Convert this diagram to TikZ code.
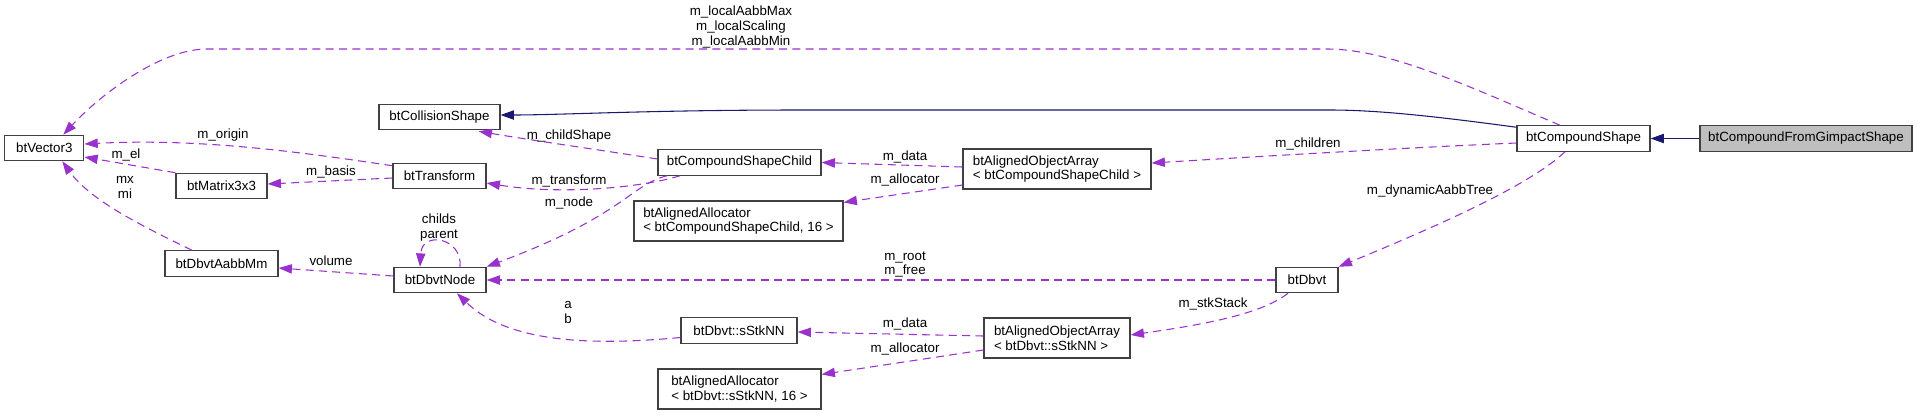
\documentclass[tikz,border=0pt]{standalone}
\usepackage{fontspec}
\setmainfont{Liberation Sans}
\usetikzlibrary{arrows.meta,calc}

\definecolor{orchid}{HTML}{9932CC}
\definecolor{navy}{HTML}{191970}
\definecolor{boxgray}{HTML}{BFBFBF}

\begin{document}
\begin{tikzpicture}[x=0.75pt,y=-0.75pt]
\tikzstyle{classbox}=[draw=black!75,line width=0.9pt,fill=white,font=\fontsize{10}{11}\selectfont,minimum height=19pt,inner sep=2pt]
\tikzstyle{twoline}=[classbox,align=left,minimum height=30pt]
\tikzstyle{edgelabel}=[font=\fontsize{10}{11}\selectfont,inner sep=0pt,align=center]
\tikzstyle{usage}=[draw=orchid,line width=0.8pt,dash pattern=on 6pt off 4pt,-{Triangle[length=10pt,width=7pt]}]
\tikzstyle{inheritance}=[draw=navy,line width=0.8pt,-{Triangle[length=10pt,width=7pt]}]

\useasboundingbox (0,0) rectangle (1917,415);

%% ========== CLASSES ==========
\node[classbox, fill=boxgray, minimum width=159pt] (gimpact) at (1806,138.5) {btCompoundFromGimpactShape};
\node[classbox, minimum width=99.75pt] (compound) at (1583.5,138.5) {btCompoundShape};
\node[classbox, minimum width=90.75pt] (collision) at (439.5,117) {btCollisionShape};
\node[classbox, minimum width=59.25pt] (vector) at (44.3,148) {btVector3};
\node[classbox, minimum width=69.75pt] (transform) at (439.5,176) {btTransform};
\node[classbox, minimum width=68.25pt] (matrix) at (221.5,186) {btMatrix3x3};
\node[classbox, minimum width=84.75pt] (aabbmm) at (221.5,263.5) {btDbvtAabbMm};
\node[classbox, minimum width=69pt] (dbvtnode) at (440,280) {btDbvtNode};
\node[classbox, minimum width=122.25pt] (child) at (739.5,162.5) {btCompoundShapeChild};
\node[twoline, minimum width=156.75pt] (childalloc) at (738.5,221) {btAlignedAllocator\\< btCompoundShapeChild, 16 >};
\node[twoline, minimum width=141pt] (childarray) at (1057,169) {btAlignedObjectArray\\< btCompoundShapeChild >};
\node[classbox, minimum width=87pt] (stknn) at (739,330.5) {btDbvt::sStkNN};
\node[twoline, minimum width=109.5pt] (stkarray) at (1057,338) {btAlignedObjectArray\\< btDbvt::sStkNN >};
\node[twoline, minimum width=122.25pt] (stkalloc) at (739.5,389) {btAlignedAllocator\\< btDbvt::sStkNN, 16 >};
\node[classbox, minimum width=46.5pt] (dbvt) at (1307,280) {btDbvt};

%% ========== INHERITANCE ==========
\draw[inheritance] (gimpact.west) -- (compound.east);
\draw[inheritance] ($(compound.north west)+(0,2)$) .. controls (1440,117) and (1380,110) .. (1330,110) -- (800,110) .. controls (650,110) and (560,115) .. ($(collision.east)+(0,-2)$);

%% ========== MEMBERS OF btCompoundShape ==========
\draw[usage] ($(compound.north)+(-23.5,0)$) .. controls (1470,87) and (1390,49) .. (1327,49) -- (207,49) .. controls (160,49) and (100,95) .. ($(vector.north)+(19,0)$);
\node[edgelabel] (lbl-aabb) at (741,27) {m\_localAabbMax\\m\_localScaling\\m\_localAabbMin};

\draw[usage] ($(compound.west)+(0,4.5)$) .. controls (1400,148) and (1250,157) .. ($(childarray.east)+(0,-6)$);
\node[edgelabel] (lbl-children) at (1308,144) {m\_children};

\draw[usage] ($(compound.south)+(-18.5,0)$) .. controls (1530,185) and (1440,225) .. (dbvt.north east);
\node[edgelabel] (lbl-tree) at (1430,191) {m\_dynamicAabbTree};

%% ========== COMPOUND CHILDREN ==========
\draw[usage] ($(childarray.west)+(0,-2)$) -- (child.east);
\node[edgelabel] (lbl-data1) at (905,157) {m\_data};
\draw[usage] ($(childarray.west)+(0,16)$) -- ($(childalloc.north east)+(0,2)$);
\node[edgelabel] (lbl-alloc1) at (905,180) {m\_allocator};

\draw[usage] ($(child.west)+(0,-3.5)$) .. controls (600,150) and (530,140) .. ($(collision.south east)+(-22,1)$);
\node[edgelabel] (lbl-shape) at (569,136) {m\_childShape};
\draw[usage] ($(child.south)+(-59.5,0)$) .. controls (640,188) and (560,195) .. ($(transform.east)+(0,7)$);
\node[edgelabel] (lbl-transform) at (569,181) {m\_transform};
\draw[usage] ($(child.south)+(-72.5,0)$) .. controls (630,185) and (625,215) .. (dbvtnode.north east);
\node[edgelabel] (lbl-node) at (569,203) {m\_node};

%% ========== TRANSFORM / VECTOR ==========
\draw[usage] ($(transform.north west)+(0,3)$) .. controls (300,152) and (200,138) .. ($(vector.east)+(0,-4)$);
\node[edgelabel] (lbl-origin) at (223,135) {m\_origin};
\draw[usage] ($(transform.west)+(0,2)$) -- ($(matrix.east)+(0,-2)$);
\node[edgelabel] (lbl-basis) at (331,172) {m\_basis};
\draw[usage] (matrix.north west) -- ($(vector.east)+(0,9)$);
\node[edgelabel] (lbl-el) at (126,155) {m\_el};
\draw[usage] ($(aabbmm.north)+(-29.5,0)$) .. controls (140,225) and (90,200) .. ($(vector.south)+(18,0)$);
\node[edgelabel] (lbl-mxmi) at (125,187.5) {mx\\mi};

%% ========== DBVT ==========
\draw[usage] ($(dbvtnode.west)+(0,-4)$) -- ($(aabbmm.east)+(0,4.5)$);
\node[edgelabel] (lbl-volume) at (331,261) {volume};
\draw[usage] ($(dbvtnode.north)+(20,0)$) .. controls (463,238) and (422,230) .. ($(dbvtnode.north)+(-20,0)$);
\node[edgelabel] (lbl-childs) at (439,227.5) {childs\\parent};
\draw[usage] (dbvt.west) -- (dbvtnode.east);
\node[edgelabel] (lbl-root) at (905,264.5) {m\_root\\m\_free};

\draw[usage] ($(dbvt.south)+(-19,0)$) .. controls (1260,315) and (1200,325) .. ($(stkarray.east)+(0,-3)$);
\node[edgelabel] (lbl-stack) at (1213,304) {m\_stkStack};
\draw[usage] ($(stkarray.west)+(0,-2)$) -- ($(stknn.east)+(0,1.5)$);
\node[edgelabel] (lbl-data2) at (905,324) {m\_data};
\draw[usage] ($(stkarray.west)+(0,12)$) -- ($(stkalloc.north east)+(0,6)$);
\node[edgelabel] (lbl-alloc2) at (905,349) {m\_allocator};
\draw[usage] ($(stknn.west)+(0,7)$) .. controls (600,345) and (510,345) .. ($(dbvtnode.south)+(17,0)$);
\node[edgelabel] (lbl-ab) at (568,312.5) {a\\b};

\end{tikzpicture}
\end{document}
